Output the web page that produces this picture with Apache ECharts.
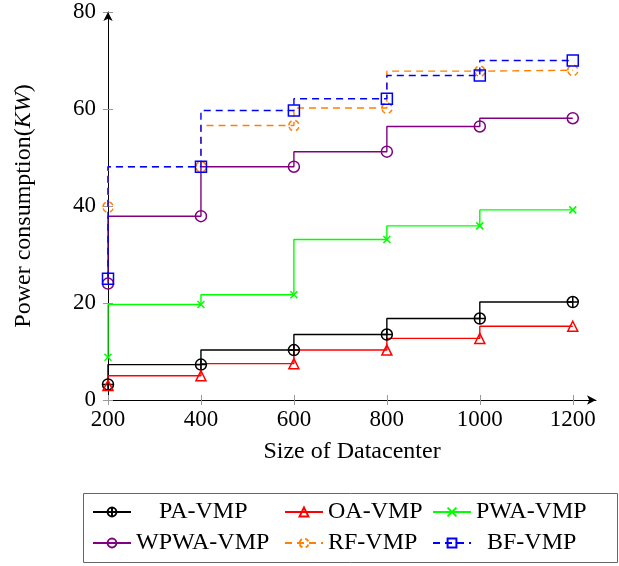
<!DOCTYPE html>
<html>
<head>
<meta charset="utf-8">
<script src="https://cdn.jsdelivr.net/npm/echarts@6/dist/echarts.min.js"></script>
<style>
html,body{margin:0;padding:0;background:#fff;}
#c{width:619px;height:566px;}
</style>
</head>
<body>
<div id="c"></div>
<script>
const xValues = [200, 400, 600, 800, 1000, 1200];
const xTicks = [200, 400, 600, 800, 1000, 1200];
const yTicks = [0, 20, 40, 60, 80];
const paVmp   = [3.2, 7.3, 10.3, 13.5, 16.8, 20.2];
const oaVmp   = [3.0, 5.0, 7.5, 10.3, 12.7, 15.2];
const pwaVmp  = [8.8, 19.7, 21.7, 33.1, 35.9, 39.2];
const wpwaVmp = [24.0, 37.9, 48.1, 51.2, 56.4, 58.1];
const rfVmp   = [39.8, 48.1, 56.6, 60.2, 67.8, 68.0];
const bfVmp   = [25.0, 48.1, 59.7, 62.1, 66.9, 70.0];
const seriesNames = ['PA-VMP', 'OA-VMP', 'PWA-VMP', 'WPWA-VMP', 'RF-VMP', 'BF-VMP'];

const FONT = '"Liberation Serif", "Times New Roman", serif';
const sym = {
  oplus: 'path://M0,5A5,5,0,1,1,10,5A5,5,0,1,1,0,5ZM0,5L10,5M5,0L5,10',
  tri: 'path://M5,0L10,9L0,9Z',
  cross: 'path://M0,0L10,10M10,0L0,10',
  circ: 'path://M0,5A5,5,0,1,1,10,5A5,5,0,1,1,0,5Z',
  dcirc: 'path://M0,5A5,5,0,0,1,2.6,0.6M6.2,0.15A5,5,0,0,1,9.6,3.2M9.8,6.5A5,5,0,0,1,6.8,9.7M3.2,9.7A5,5,0,0,1,0.15,6.2',
  sq: 'path://M0,0L10,0L10,10L0,10Z'
};

function pairs(vals){ return xValues.map((x,i)=>[x, vals[i]]); }

function mk(name, vals, color, symbol, size, dashed){
  return {
    name: name, type: 'line', step: 'start', data: pairs(vals),
    symbol: symbol, symbolSize: size, showAllSymbol: true,
    lineStyle: {color: color, width: 1.4, type: dashed ? [7,5] : 'solid'},
    itemStyle: {color: 'rgba(255,255,255,0)', borderColor: color, borderWidth: 1.5},
    emphasis: {disabled: true}, animation: false
  };
}

const series = [
  mk(seriesNames[0], paVmp, '#000000', sym.oplus, 11, false),
  mk(seriesNames[1], oaVmp, '#ff0000', sym.tri, 10, false),
  mk(seriesNames[2], pwaVmp, '#00ff00', sym.cross, 7, false),
  mk(seriesNames[3], wpwaVmp, '#800080', sym.circ, 11, false),
  mk(seriesNames[4], rfVmp, '#ff8000', sym.dcirc, 10, true),
  mk(seriesNames[5], bfVmp, '#0000ff', sym.sq, 11, true)
];

// legend layout: [series index, left, top, textPaddingLeft]
const legendPos = [
  [0, 92, 500, 23],
  [1, 284, 500, 0],
  [2, 432, 500, 0],
  [3, 92, 531, 0],
  [4, 284, 531, 0],
  [5, 432, 531, 11]
];
const legends = legendPos.map(p => ({
  data: [seriesNames[p[0]]], left: p[1], top: p[2], padding: 0,
  itemWidth: 38, itemHeight: 11, selectedMode: false, orient: 'horizontal',
  textStyle: {fontFamily: FONT, fontSize: 24, color: '#000', padding: [0,0,0,p[3]]}
}));

const plain = v => String(v);

const chart = echarts.init(document.getElementById('c'), null, {renderer: 'canvas'});
chart.setOption({
  backgroundColor: '#fff',
  animation: false,
  grid: {left: 108, right: 23, top: 12, bottom: 166, containLabel: false},
  legend: legends,
  graphic: [{
    type: 'rect', shape: {x: 83.5, y: 493.5, width: 534, height: 69},
    style: {fill: 'none', stroke: '#666', lineWidth: 1}, silent: true, z: 0
  }],
  xAxis: [{
    type: 'value', min: 200, max: 1250,
    name: 'Size of Datacenter', nameLocation: 'middle', nameGap: 40,
    nameTextStyle: {fontFamily: FONT, fontSize: 24, color: '#000'},
    axisLine: {show: true, lineStyle: {color: '#000', width: 1}, symbol: ['none', 'arrow'], symbolSize: [7, 9], symbolOffset: [0, 0]},
    axisTick: {show: true, length: 5, lineStyle: {color: '#999'}, customValues: xTicks},
    axisLabel: {fontFamily: FONT, fontSize: 23, color: '#000', margin: 8, customValues: xTicks, formatter: plain},
    splitLine: {show: false}
  }, {
    type: 'value', min: 200, max: 1250, position: 'bottom',
    axisLine: {show: false},
    axisTick: {show: true, inside: true, length: 5, lineStyle: {color: '#999'}, customValues: xTicks},
    axisLabel: {show: false}, splitLine: {show: false}
  }],
  yAxis: [{
    type: 'value', min: 0, max: 80, interval: 20,
    name: '{a|Power consumption(}{b|KW}{a|)}', nameLocation: 'middle', nameGap: 72,
    nameTextStyle: {fontFamily: FONT, fontSize: 24, color: '#000',
      rich: {a: {fontFamily: FONT, fontSize: 24, color: '#000'}, b: {fontFamily: FONT, fontSize: 24, color: '#000', fontStyle: 'italic'}}},
    axisLine: {show: true, lineStyle: {color: '#000', width: 1}, symbol: ['none', 'arrow'], symbolSize: [7, 9], symbolOffset: [0, 0]},
    axisTick: {show: true, length: 5, lineStyle: {color: '#999'}, customValues: yTicks},
    axisLabel: {fontFamily: FONT, fontSize: 23, color: '#000', margin: 12, customValues: yTicks, formatter: plain},
    splitLine: {show: false}
  }, {
    type: 'value', min: 0, max: 80, interval: 20, position: 'left',
    axisLine: {show: false},
    axisTick: {show: true, inside: true, length: 5, lineStyle: {color: '#999'}, customValues: yTicks},
    axisLabel: {show: false}, splitLine: {show: false}
  }],
  series: series
});
</script>
</body>
</html>
